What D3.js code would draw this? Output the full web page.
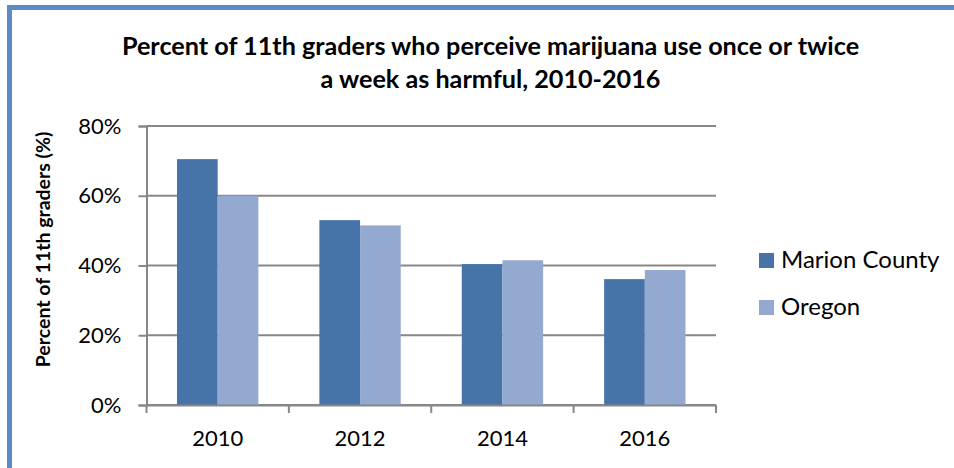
<!DOCTYPE html>
<html>
<head>
<meta charset="utf-8">
<script src="https://cdn.jsdelivr.net/npm/d3@7"></script>
<style>
  html, body { margin: 0; padding: 0; background: #fff; }
  svg { display: block; }
  text { font-family: Lato, "Open Sans", sans-serif; fill: #000; }
</style>
</head>
<body>
<svg id="chart" width="954" height="468"></svg>
<script>
const categories = ["2010", "2012", "2014", "2016"];
const seriesNames = ["Marion County", "Oregon"];
const marionValues = [70.5, 53.0, 40.4, 36.1];
const oregonValues = [60.0, 51.5, 41.5, 38.7];
const yTicks = [0, 20, 40, 60, 80];
const titleLines = ["Percent of 11th graders who perceive marijuana use once or twice", "a week as harmful, 2010-2016"];
const yAxisTitle = "Percent of 11th graders (%)";
const colors = ["#4673A8", "#94A9D0"];

const svg = d3.select("#chart");

// outer frame (top and left edges visible)
svg.append("rect")
  .attr("x", 9.5).attr("y", 7.5)
  .attr("width", 990).attr("height", 520)
  .attr("fill", "none")
  .attr("stroke", "#5B8BC7")
  .attr("stroke-width", 5);

const plot = { left: 146.5, right: 716, top: 126, bottom: 405 };

const x0 = d3.scaleBand().domain(categories).range([plot.left, plot.right]).paddingInner(0).paddingOuter(0);
const gapRatio = 1.5;
const barW = x0.bandwidth() / (2 + gapRatio);
const x1 = d3.scaleBand().domain(seriesNames).range([barW * gapRatio / 2, barW * gapRatio / 2 + 2 * barW]).padding(0);
const y = d3.scaleLinear().domain([0, 80]).range([plot.bottom, plot.top]);

// title
const title = svg.append("text")
  .attr("text-anchor", "middle")
  .style("font-weight", "bold")
  .style("font-size", "25.2px");
titleLines.forEach((t, i) => {
  title.append("tspan").attr("x", 490.5).attr("y", 55 + i * 33).text(t);
});

// gridlines
svg.append("g")
  .selectAll("line").data(yTicks).join("line")
  .attr("x1", plot.left).attr("x2", plot.right)
  .attr("y1", d => y(d)).attr("y2", d => y(d))
  .attr("stroke", "#878787").attr("stroke-width", 2);

// bars
const seriesData = [marionValues, oregonValues];
const groups = svg.append("g").selectAll("g").data(categories).join("g")
  .attr("transform", d => `translate(${x0(d)},0)`);
groups.selectAll("rect")
  .data((d, i) => seriesNames.map((s, j) => ({ s, v: seriesData[j][i], j })))
  .join("rect")
  .attr("x", d => x1(d.s))
  .attr("y", d => y(d.v))
  .attr("width", x1.bandwidth())
  .attr("height", d => y(0) - y(d.v))
  .attr("fill", d => colors[d.j]);

// y axis
const yAxis = d3.axisLeft(y).tickValues(yTicks).tickFormat(d => d + "%").tickSize(8).tickPadding(17);
const gy = svg.append("g").attr("transform", `translate(${plot.left},0)`).call(yAxis);
gy.select(".domain").attr("stroke", "#878787").attr("stroke-width", 2);
gy.selectAll(".tick line").attr("stroke", "#878787").attr("stroke-width", 2);
gy.selectAll(".tick text").style("font-family", "Lato, sans-serif").style("font-size", "22px").attr("fill", "#000");

// x axis
const xAxis = d3.axisBottom(x0).tickSize(0).tickPadding(25);
const gx = svg.append("g").attr("transform", `translate(0,${plot.bottom})`).call(xAxis);
gx.select(".domain").attr("stroke", "#878787").attr("stroke-width", 2);
gx.selectAll(".tick text").style("font-family", "Lato, sans-serif").style("font-size", "22px").attr("fill", "#000");
// category boundary ticks
const bounds = categories.map(c => x0(c)).concat([plot.right]);
gx.append("g").selectAll("line").data(bounds).join("line")
  .attr("x1", d => d).attr("x2", d => d)
  .attr("y1", 0).attr("y2", 8)
  .attr("stroke", "#878787").attr("stroke-width", 2);

// y axis title
svg.append("text")
  .attr("transform", `translate(50,${(plot.top + plot.bottom) / 2 - 16}) rotate(-90)`)
  .attr("text-anchor", "middle")
  .style("font-weight", "bold")
  .style("font-size", "19.5px")
  .text(yAxisTitle);

// legend
const legend = svg.append("g").selectAll("g").data(seriesNames).join("g")
  .attr("transform", (d, i) => `translate(759,${253 + i * 47})`);
legend.append("rect").attr("width", 15).attr("height", 15).attr("fill", (d, i) => colors[i]);
legend.append("text").attr("x", 22).attr("y", 15).style("font-size", "24px").text(d => d);
</script>
</body>
</html>
